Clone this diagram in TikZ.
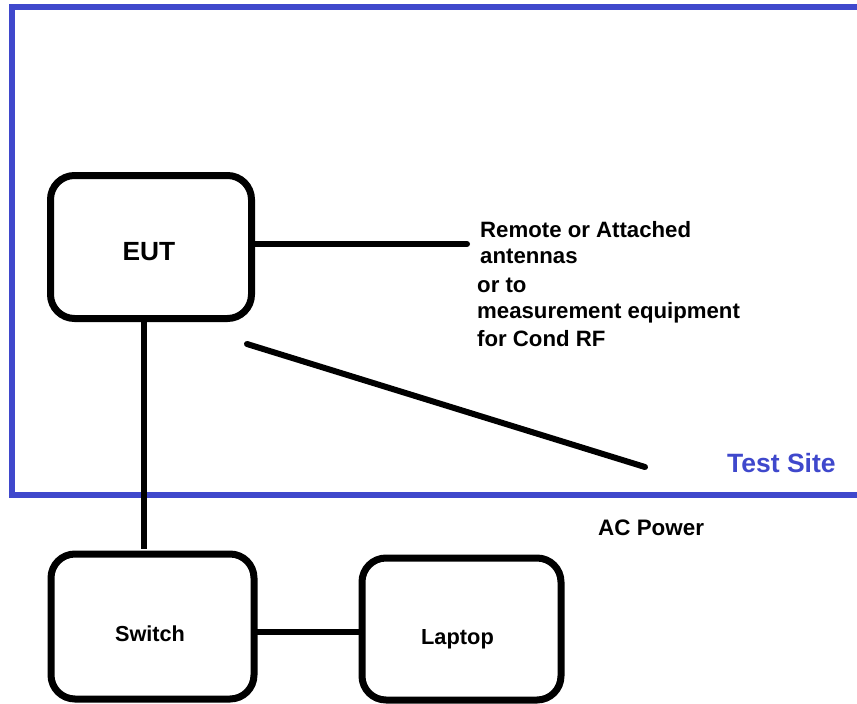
\documentclass[tikz,border=0pt]{standalone}
\usepackage{fontspec}
\setmainfont{Liberation Sans}
\definecolor{siteblue}{RGB}{63,72,204}
\begin{document}
\begin{tikzpicture}[x=1pt,y=-1pt,
  devbox/.style={draw=black,line width=7pt,rounded corners=24pt,inner sep=0pt,outer sep=0pt,fill=white},
  wire/.style={draw=black,line width=6pt},
  lbl/.style={inner sep=0pt,font=\bfseries},
  frame/.style={draw=siteblue,line width=6pt}]
\useasboundingbox (0,0) rectangle (857,704);
% test site frame
\coordinate (ftr) at (870,7);
\coordinate (ftl) at (12,7);
\coordinate (fbl) at (12,495);
\coordinate (fbr) at (870,495);
\draw[frame] (ftr) -- (ftl) -- (fbl) -- (fbr);
% boxes
\node[devbox,minimum width=201pt,minimum height=143pt] (EUT) at (151,247) {};
\node[devbox,minimum width=203pt,minimum height=145pt] (Switch) at (152.5,626.5) {};
\node[devbox,minimum width=199pt,minimum height=142pt] (Laptop) at (461.5,629) {};
% labels in boxes
\node[lbl,anchor=base,font=\bfseries\fontsize{26.3}{30}\selectfont] (eutlbl) at (149,260) {EUT};
\node[lbl,anchor=base,font=\bfseries\fontsize{21.7}{25}\selectfont] (swlbl) at (150,641) {Switch};
\node[lbl,anchor=base,font=\bfseries\fontsize{21.8}{25}\selectfont] (lplbl) at (457.5,644) {Laptop};
% connectors
\coordinate (antend) at (467,244);
\draw[wire,line cap=round] (EUT.east |- antend) -- (antend);
\coordinate (diagA) at (247,344);
\coordinate (diagB) at (645,467);
\draw[wire,line cap=round] (diagA) -- (diagB);
\coordinate (vx) at (143.5,0);
\coordinate (vend) at (143.5,549);
\draw[wire] (EUT.south -| vx) -- (vend);
\coordinate (hy) at (0,632);
\draw[wire] (Switch.east |- hy) -- (Laptop.west |- hy);
% texts
\tikzset{side/.style={lbl,anchor=base west,font=\bfseries\fontsize{22.2}{26}\selectfont}}
\node[side] (t1) at (480,237) {Remote or Attached};
\node[side] (t2) at (480,263) {antennas};
\node[side] (t3) at (477,292) {or to};
\node[side] (t4) at (477,318) {measurement equipment};
\node[side] (t5) at (477,346) {for Cond RF};
\node[lbl,anchor=base west,text=siteblue,font=\bfseries\fontsize{26.5}{30}\selectfont] (site) at (727,472) {Test Site};
\node[lbl,anchor=base west,font=\bfseries\fontsize{22.4}{26}\selectfont] (acp) at (598,535) {AC Power};
\end{tikzpicture}
\end{document}
